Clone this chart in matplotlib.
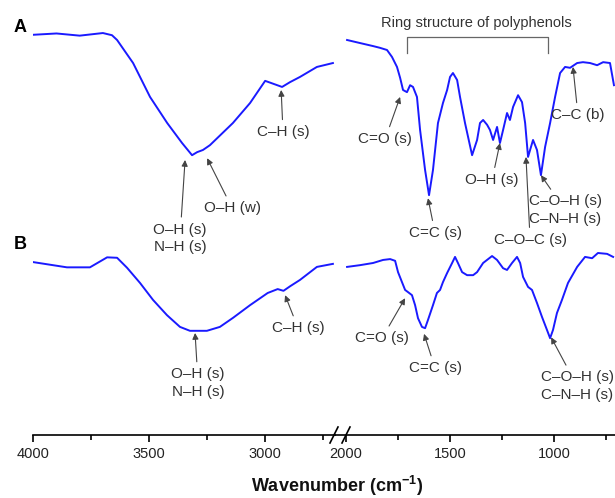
import matplotlib.pyplot as plt
from matplotlib.ticker import FixedLocator

plt.rcParams['font.family'] = ['Liberation Sans', 'DejaVu Sans']
plt.rcParams['mathtext.fontset'] = 'custom'
plt.rcParams['mathtext.rm'] = 'Liberation Sans'
plt.rcParams['mathtext.bf'] = 'Liberation Sans:bold'

# spectrum A (upper trace)
wnAHigh = [4000, 3900, 3800, 3700, 3661, 3639, 3570, 3497, 3423, 3359, 3316, 3294,
           3269, 3239, 3140, 3066, 3001, 2928, 2894, 2851, 2778, 2709]
tAHigh = [92.0, 92.3, 91.8, 92.4, 91.9, 90.8, 85.5, 77.7, 71.7, 67.1, 64.3, 65.0,
          65.5, 66.6, 71.7, 76.3, 81.4, 80.0, 81.1, 82.3, 84.6, 85.5]
wnALow = [1995, 1933, 1870, 1837, 1803, 1779, 1755, 1740, 1726, 1707, 1692, 1678,
          1659, 1644, 1620, 1601, 1582, 1558, 1534, 1514, 1500, 1486, 1466, 1452,
          1428, 1394, 1370, 1356, 1341, 1322, 1308, 1293, 1274, 1260, 1245, 1226,
          1212, 1197, 1173, 1154, 1139, 1125, 1101, 1082, 1063, 1043, 1019, 995,
          971, 947, 923, 889, 861, 827, 793, 764, 731, 712]
tALow = [90.8, 90.1, 89.4, 89.0, 88.5, 86.9, 84.6, 82.1, 79.3, 78.8, 80.4, 80.0,
         77.7, 70.1, 60.9, 55.1, 60.9, 71.7, 76.3, 79.3, 82.3, 83.2, 81.6, 77.7,
         71.7, 64.3, 67.8, 71.7, 72.4, 71.3, 70.1, 67.8, 70.8, 67.1, 70.1, 74.0,
         72.4, 75.4, 78.1, 76.5, 71.7, 63.9, 67.8, 65.5, 59.7, 66.2, 71.7, 77.7,
         83.2, 84.6, 84.4, 85.5, 85.7, 85.5, 85.0, 85.7, 85.5, 80.4]

# spectrum B (lower trace)
wnBHigh = [4000, 3855, 3756, 3682, 3639, 3596, 3540, 3484, 3424, 3368, 3325, 3252,
           3196, 3139, 3066, 2990, 2947, 2922, 2892, 2851, 2778, 2709]
tBHigh = [39.7, 38.5, 38.5, 40.8, 40.7, 38.4, 34.9, 31.0, 27.5, 24.8, 23.9, 23.9,
          24.8, 26.9, 29.8, 32.6, 33.5, 33.1, 34.2, 35.6, 38.6, 39.3]
wnBLow = [1995, 1933, 1870, 1822, 1788, 1764, 1750, 1731, 1716, 1702, 1683, 1668,
          1654, 1635, 1620, 1606, 1582, 1563, 1548, 1534, 1514, 1490, 1476, 1462,
          1442, 1418, 1389, 1370, 1341, 1298, 1274, 1245, 1226, 1202, 1178, 1163,
          1149, 1125, 1106, 1082, 1058, 1034, 1019, 1005, 986, 962, 933, 889, 851,
          817, 789, 745, 716]
tBLow = [38.6, 39.0, 39.5, 40.2, 40.4, 40.0, 37.4, 35.1, 33.3, 32.8, 32.1, 29.8,
         26.8, 24.8, 24.5, 26.4, 29.8, 32.6, 33.3, 35.1, 37.2, 39.5, 40.9, 39.5,
         37.4, 36.7, 36.7, 37.4, 39.5, 41.1, 40.2, 38.3, 37.9, 39.5, 40.9, 39.5,
         36.3, 34.0, 33.3, 30.3, 27.1, 24.1, 22.2, 24.1, 28.0, 31.0, 34.9, 38.6, 40.9,
         40.6, 41.8, 41.6, 40.9]

blue = '#1a1aff'
grey = '#333333'

fig = plt.figure(figsize=(6.15, 4.98), dpi=100)
bottom = 1 - 434.7 / 498
axL = fig.add_axes([33.3 / 615, bottom, (335 - 33.3) / 615, 1 - bottom])
axR = fig.add_axes([335 / 615, bottom, (615 - 335) / 615, 1 - bottom])

axL.plot(wnAHigh, tAHigh, color=blue, lw=1.4)
axL.plot(wnBHigh, tBHigh, color=blue, lw=1.4)
axR.plot(wnALow, tALow, color=blue, lw=1.4)
axR.plot(wnBLow, tBLow, color=blue, lw=1.4)

axL.set_xlim(4000, 2700)
axR.set_xlim(2053, 707)
for ax in (axL, axR):
    ax.set_ylim(0, 100)
    ax.patch.set_visible(False)
    for s in ('top', 'left', 'right'):
        ax.spines[s].set_visible(False)
    ax.spines['bottom'].set_linewidth(1.2)
    ax.set_yticks([])
    ax.tick_params(axis='x', which='major', length=5, width=1.2, pad=4,
                   labelsize=10.5, labelcolor='#222222')
    ax.tick_params(axis='x', which='minor', length=3.5, width=1.2)
axL.xaxis.set_major_locator(FixedLocator([4000, 3500, 3000]))
axL.xaxis.set_minor_locator(FixedLocator([3750, 3250, 2750]))
axR.xaxis.set_major_locator(FixedLocator([2000, 1500, 1000]))
axR.xaxis.set_minor_locator(FixedLocator([1750, 1250, 750]))

# axis break marks
for x0 in (330, 342):
    fig.add_artist(plt.Line2D([x0 / 615, (x0 + 8) / 615],
                              [1 - 443 / 498, 1 - 427 / 498],
                              color='black', lw=1.2))


def note(ax, text, xyText, xyHead, size=11):
    ax.annotate(text, xy=xyHead, xytext=xyText, ha='center', va='center',
                fontsize=size, color=grey, annotation_clip=False,
                linespacing=1.3,
                arrowprops=dict(arrowstyle='-|>', color='#444444', lw=0.8,
                                mutation_scale=9, shrinkA=2, shrinkB=0))


# labels on the upper trace
note(axL, 'O–H (s)\nN–H (s)', (3368, 45.2), (3346, 63.2))
note(axL, 'O–H (w)', (3143, 52.1), (3251, 63.6))
note(axL, 'C–H (s)', (2924, 69.6), (2932, 79.3))
note(axR, 'C=O (s)', (1812, 68.0), (1740, 77.7))
note(axR, 'C=C (s)', (1572, 46.4), (1606, 54.4))
note(axR, 'O–H (s)', (1298, 58.6), (1260, 67.1))
note(axR, 'C–O–C (s)', (1115, 44.8), (1135, 63.9))
note(axR, 'C–O–H (s)\nC–N–H (s)', (947, 51.7), (1063, 59.7))
note(axR, 'C–C (b)', (885, 73.5), (909, 84.6))

# bracket for the ring structure
axR.plot([1707, 1707, 1029, 1029], [87.8, 91.5, 91.5, 87.8], color='#666666', lw=0.9)
axR.text(1375, 94.7, 'Ring structure of polyphenols', ha='center', va='center',
         fontsize=10.5, color=grey)

# labels on the lower trace
note(axL, 'O–H (s)\nN–H (s)', (3290, 11.9), (3303, 23.4))
note(axL, 'C–H (s)', (2859, 24.5), (2915, 32.1))
note(axR, 'C=O (s)', (1827, 22.2), (1716, 31.4))
note(axR, 'C=C (s)', (1572, 15.3), (1625, 23.2))
note(axR, 'C–O–H (s)\nC–N–H (s)', (889, 11.2), (1014, 22.4))

fig.text(20 / 615, 1 - 27 / 498, 'A', fontsize=13, fontweight='bold', ha='center', va='center')
fig.text(20 / 615, 1 - 244 / 498, 'B', fontsize=13, fontweight='bold', ha='center', va='center')
fig.text(337 / 615, 1 - 486 / 498, r'Wavenumber (cm$^{\mathbf{-1}}$)', fontsize=13,
         fontweight='bold', ha='center', va='center', color='#111111')

plt.savefig('out.png', dpi=100)
plt.close()
